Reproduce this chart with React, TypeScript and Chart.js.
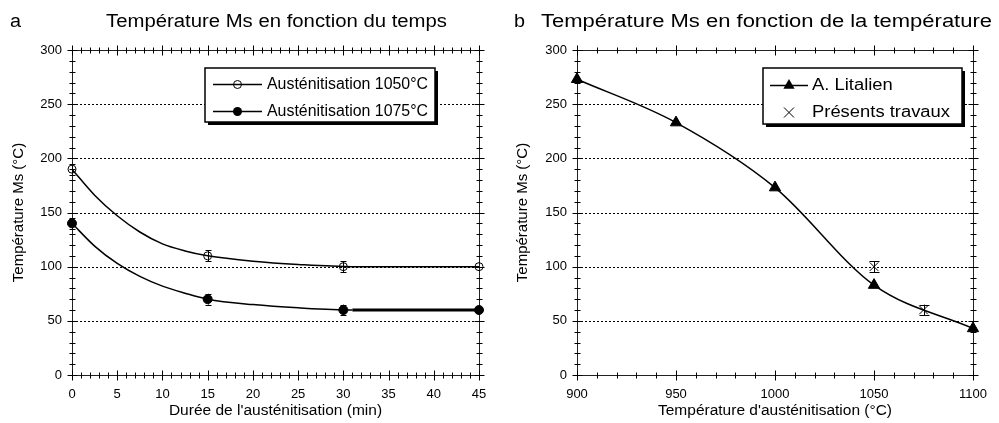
import React, { useEffect, useRef } from "react";
import { Chart, registerables } from "chart.js";

Chart.register(...registerables);

// ---- Data: panel a (measured points) ----
const timeMin = [0, 15, 30, 45];
const ms1050 = [190, 110, 100, 100];
const err1050 = [5, 5, 5, 0];
const ms1075 = [140, 70, 60, 60];
const err1075 = [5, 5, 5, 0];

// ---- panel a: fitted curves ----
const fitTime = [0, 2.5, 5, 7.5, 10, 12.5, 15, 20, 25, 31, 45];
const fit1050 = [190, 166, 147, 132, 121, 114.5, 110, 105, 102, 100, 100];
const fit1075 = [140, 119, 103, 91, 82, 75.5, 70, 65, 62, 60, 60];

// ---- Data: panel b ----
const tempLitalien = [900, 950, 1000, 1050, 1100];
const msLitalien = [273, 233, 173, 83, 43];
const tempPresent = [1050, 1075];
const msPresent = [100, 60];
const errPresent = [5, 5];

const FONT = "'Liberation Sans', Arial, Helvetica, sans-serif";

type PanelOpts = {
  letter: string;
  letterX: number;
  title: string;
  titleX: number;
  titleW: number;
  xMinor: number;
  xMajor: number;
  yMinor: number;
  yMajor: number;
  errors: (number[] | null)[];
  capW: number[];
  legend: {
    x: number;
    y: number;
    w: number;
    h: number;
    lineX0: number;
    lineX1: number;
    textX: number;
    refText: string;
    refW: number;
    rows: { text: string; y: number; marker: string; line: boolean }[];
  };
};

function fillTextScaled(ctx: CanvasRenderingContext2D, text: string, x: number, y: number, sx: number) {
  ctx.save();
  ctx.translate(x, y);
  ctx.scale(sx, 1);
  ctx.fillText(text, 0, 0);
  ctx.restore();
}

function drawMarker(ctx: CanvasRenderingContext2D, kind: string, x: number, y: number) {
  ctx.save();
  ctx.strokeStyle = "#000";
  ctx.fillStyle = "#000";
  ctx.lineWidth = 1;
  ctx.setLineDash([]);
  ctx.beginPath();
  if (kind === "openCircle") {
    ctx.arc(x, y, 4, 0, Math.PI * 2);
    ctx.stroke();
  } else if (kind === "filledCircle") {
    ctx.arc(x, y, 4.5, 0, Math.PI * 2);
    ctx.fill();
  } else if (kind === "triangle") {
    const r = 6.5;
    ctx.moveTo(x, y - r);
    ctx.lineTo(x + r * 0.866, y + r * 0.5);
    ctx.lineTo(x - r * 0.866, y + r * 0.5);
    ctx.closePath();
    ctx.fill();
  } else if (kind === "cross") {
    const r = 5;
    ctx.moveTo(x - r, y - r);
    ctx.lineTo(x + r, y + r);
    ctx.moveTo(x + r, y - r);
    ctx.lineTo(x - r, y + r);
    ctx.stroke();
  }
  ctx.restore();
}

function decorPlugin(o: PanelOpts) {
  return {
    id: "decor",
    beforeDatasetsDraw(chart: any) {
      const { ctx, chartArea } = chart;
      const { left, right, top, bottom } = chartArea;
      const xs = chart.scales.x;
      const ys = chart.scales.y;
      ctx.save();
      // dotted horizontal grid lines
      ctx.strokeStyle = "#000";
      ctx.lineWidth = 1;
      ctx.setLineDash([2, 2]);
      for (let v = ys.min; v <= ys.max + 1e-6; v += o.yMajor) {
        const py = Math.round(ys.getPixelForValue(v)) + 0.5;
        ctx.beginPath();
        ctx.moveTo(left, py);
        ctx.lineTo(right, py);
        ctx.stroke();
      }
      ctx.setLineDash([]);
      // frame
      ctx.strokeStyle = "#222";
      const L = Math.round(left) + 0.5;
      const R = Math.round(right) + 0.5;
      const T = Math.round(top) + 0.5;
      const B = Math.round(bottom) + 0.5;
      ctx.beginPath();
      ctx.rect(L, T, R - L, B - T);
      ctx.stroke();
      ctx.strokeStyle = "#000";
      // ticks on x (bottom & top)
      for (let v = xs.min; v <= xs.max + 1e-6; v += o.xMinor) {
        const isMajor = Math.abs(v / o.xMajor - Math.round(v / o.xMajor)) < 1e-6;
        const len = isMajor ? 5 : 3;
        const px = Math.round(xs.getPixelForValue(v)) + 0.5;
        ctx.beginPath();
        ctx.moveTo(px, B - len);
        ctx.lineTo(px, B + len);
        ctx.moveTo(px, T - len);
        ctx.lineTo(px, T + len);
        ctx.stroke();
      }
      // ticks on y (left & right)
      for (let v = ys.min; v <= ys.max + 1e-6; v += o.yMinor) {
        const isMajor = Math.abs(v / o.yMajor - Math.round(v / o.yMajor)) < 1e-6;
        const len = isMajor ? 5 : 3;
        const py = Math.round(ys.getPixelForValue(v)) + 0.5;
        ctx.beginPath();
        ctx.moveTo(L - len, py);
        ctx.lineTo(L + len, py);
        ctx.moveTo(R - len, py);
        ctx.lineTo(R + len, py);
        ctx.stroke();
      }
      // error bars
      chart.data.datasets.forEach((ds: any, di: number) => {
        const errs = o.errors[di];
        if (!errs) return;
        const cw = o.capW[di];
        ds.data.forEach((p: any, i: number) => {
          const e = errs[i];
          if (!e) return;
          const px = Math.round(xs.getPixelForValue(p.x)) + 0.5;
          const y0 = ys.getPixelForValue(p.y - e);
          const y1 = ys.getPixelForValue(p.y + e);
          ctx.beginPath();
          ctx.moveTo(px, y0);
          ctx.lineTo(px, y1);
          ctx.moveTo(px - cw, Math.round(y0) + 0.5);
          ctx.lineTo(px + cw, Math.round(y0) + 0.5);
          ctx.moveTo(px - cw, Math.round(y1) + 0.5);
          ctx.lineTo(px + cw, Math.round(y1) + 0.5);
          ctx.stroke();
        });
      });
      ctx.restore();
    },
    afterDraw(chart: any) {
      const { ctx } = chart;
      ctx.save();
      ctx.fillStyle = "#000";
      ctx.textBaseline = "alphabetic";
      ctx.font = `18px ${FONT}`;
      ctx.textAlign = "left";
      fillTextScaled(ctx, o.letter, o.letterX, 27, 1.1);
      const tw = ctx.measureText(o.title).width;
      fillTextScaled(ctx, o.title, o.titleX, 27, o.titleW / tw);
      // legend
      const lg = o.legend;
      ctx.fillStyle = "#000";
      ctx.fillRect(lg.x + 3, lg.y + 3, lg.w, lg.h);
      ctx.fillStyle = "#fff";
      ctx.fillRect(lg.x, lg.y, lg.w, lg.h);
      ctx.strokeStyle = "#000";
      ctx.lineWidth = 1.5;
      ctx.strokeRect(lg.x, lg.y, lg.w, lg.h);
      ctx.font = `16px ${FONT}`;
      ctx.textBaseline = "middle";
      const sx = lg.refW / ctx.measureText(lg.refText).width;
      lg.rows.forEach((r) => {
        if (r.line) {
          ctx.lineWidth = 1.5;
          ctx.strokeStyle = "#000";
          ctx.beginPath();
          ctx.moveTo(lg.lineX0, r.y + 0.5);
          ctx.lineTo(lg.lineX1, r.y + 0.5);
          ctx.stroke();
        }
        drawMarker(ctx, r.marker, (lg.lineX0 + lg.lineX1) / 2, r.y + 0.5);
        ctx.fillStyle = "#000";
        fillTextScaled(ctx, r.text, lg.textX, r.y + 1, sx);
      });
      ctx.restore();
    },
  };
}

function baseOptions(
  xMin: number,
  xMax: number,
  xStep: number,
  xTitle: string,
  padLeft: number,
  yWidth: number,
  padRight: number
) {
  return {
    responsive: true,
    maintainAspectRatio: false,
    animation: false,
    events: [],
    layout: { padding: { left: padLeft, right: padRight, top: 50, bottom: 1 } },
    plugins: { legend: { display: false }, tooltip: { enabled: false }, title: { display: false } },
    scales: {
      x: {
        type: "linear",
        min: xMin,
        max: xMax,
        grid: { display: false, drawTicks: false },
        border: { display: false },
        ticks: {
          stepSize: xStep,
          color: "#000",
          padding: 12,
          font: { size: 13, family: FONT },
          maxRotation: 0,
          callback: (v: any) => String(v),
        },
        title: { display: true, text: xTitle, color: "#000", font: { size: 15.5, family: FONT }, padding: { top: 2, bottom: 2 } },
        afterFit: (s: any) => {
          s.height = 47;
        },
      },
      y: {
        type: "linear",
        min: 0,
        max: 300,
        grid: { display: false, drawTicks: false },
        border: { display: false },
        ticks: { stepSize: 50, color: "#000", padding: 10, font: { size: 13, family: FONT } },
        title: { display: true, text: "Température Ms (°C)", color: "#000", font: { size: 15, family: FONT }, padding: { top: 2, bottom: 2 } },
        afterFit: (s: any) => {
          s.width = yWidth;
        },
      },
    },
  };
}

function configA(): any {
  const o: PanelOpts = {
    letter: "a",
    letterX: 10,
    title: "Température Ms en fonction du temps",
    titleX: 106,
    titleW: 341,
    xMinor: 1,
    xMajor: 5,
    yMinor: 10,
    yMajor: 50,
    errors: [err1050, err1075, null, null],
    capW: [3, 3, 0, 0],
    legend: {
      x: 205,
      y: 68,
      w: 230,
      h: 54,
      lineX0: 213,
      lineX1: 262,
      textX: 267,
      refText: "Austénitisation 1050°C",
      refW: 161,
      rows: [
        { text: "Austénitisation 1050°C", y: 84, marker: "openCircle", line: true },
        { text: "Austénitisation 1075°C", y: 111, marker: "filledCircle", line: true },
      ],
    },
  };
  return {
    type: "line",
    data: {
      datasets: [
        {
          label: "Austénitisation 1050°C",
          data: timeMin.map((t, i) => ({ x: t, y: ms1050[i] })),
          showLine: false,
          borderColor: "#000",
          pointStyle: "circle",
          pointRadius: 4,
          pointBackgroundColor: "rgba(0,0,0,0)",
          pointBorderColor: "#000",
          pointBorderWidth: 1,
          clip: false,
        },
        {
          label: "Austénitisation 1075°C",
          data: timeMin.map((t, i) => ({ x: t, y: ms1075[i] })),
          showLine: false,
          borderColor: "#000",
          pointStyle: "circle",
          pointRadius: 4.5,
          pointBackgroundColor: "#000",
          pointBorderColor: "#000",
          pointBorderWidth: 1,
          clip: false,
        },
        {
          label: "fit 1050",
          data: fitTime.map((t, i) => ({ x: t, y: fit1050[i] })),
          borderColor: "#000",
          borderWidth: 1.5,
          pointRadius: 0,
          cubicInterpolationMode: "monotone",
          clip: false,
        },
        {
          label: "fit 1075",
          data: fitTime.map((t, i) => ({ x: t, y: fit1075[i] })),
          borderColor: "#000",
          borderWidth: 1.5,
          segment: { borderWidth: (c: any) => (c.p0DataIndex === fitTime.length - 2 ? 3 : 1.5) },
          pointRadius: 0,
          cubicInterpolationMode: "monotone",
          clip: false,
        },
      ],
    },
    options: baseOptions(0, 45, 5, "Durée de l'austénitisation (min)", 8, 64, 21),
    plugins: [decorPlugin(o)],
  };
}

function configB(): any {
  const o: PanelOpts = {
    letter: "b",
    letterX: 14,
    title: "Température Ms en fonction de la température",
    titleX: 41,
    titleW: 451,
    xMinor: 10,
    xMajor: 50,
    yMinor: 10,
    yMajor: 50,
    errors: [null, errPresent],
    capW: [0, 5],
    legend: {
      x: 263,
      y: 68,
      w: 199,
      h: 56,
      lineX0: 270,
      lineX1: 308,
      textX: 312,
      refText: "Présents travaux",
      refW: 138,
      rows: [
        { text: "A. Litalien", y: 85, marker: "triangle", line: true },
        { text: "Présents travaux", y: 112, marker: "cross", line: false },
      ],
    },
  };
  return {
    type: "line",
    data: {
      datasets: [
        {
          label: "A. Litalien",
          data: tempLitalien.map((t, i) => ({ x: t, y: msLitalien[i] })),
          borderColor: "#000",
          borderWidth: 1.5,
          pointStyle: "triangle",
          pointRadius: 6.5,
          pointBackgroundColor: "#000",
          pointBorderColor: "#000",
          pointBorderWidth: 1,
          cubicInterpolationMode: "monotone",
          clip: false,
        },
        {
          label: "Présents travaux",
          data: tempPresent.map((t, i) => ({ x: t, y: msPresent[i] })),
          showLine: false,
          borderColor: "#000",
          pointStyle: "crossRot",
          pointRadius: 6,
          pointBorderColor: "#000",
          pointBorderWidth: 1,
          clip: false,
        },
      ],
    },
    options: baseOptions(900, 1100, 50, "Température d'austénitisation (°C)", 12, 65, 15),
    plugins: [decorPlugin(o)],
  };
}

function Panel({ left, width, make }: { left: number; width: number; make: () => any }) {
  const ref = useRef<HTMLCanvasElement | null>(null);
  useEffect(() => {
    if (!ref.current) return;
    const c = new Chart(ref.current, make());
    return () => c.destroy();
  }, []);
  return (
    <div style={{ position: "absolute", left, top: 0, width, height: 423 }}>
      <canvas ref={ref} />
    </div>
  );
}

export default function App() {
  return (
    <div style={{ position: "fixed", left: 0, top: 0, width: 999, height: 423, background: "#fff" }}>
      <Panel left={0} width={500} make={configA} />
      <Panel left={500} width={499} make={configB} />
    </div>
  );
}
